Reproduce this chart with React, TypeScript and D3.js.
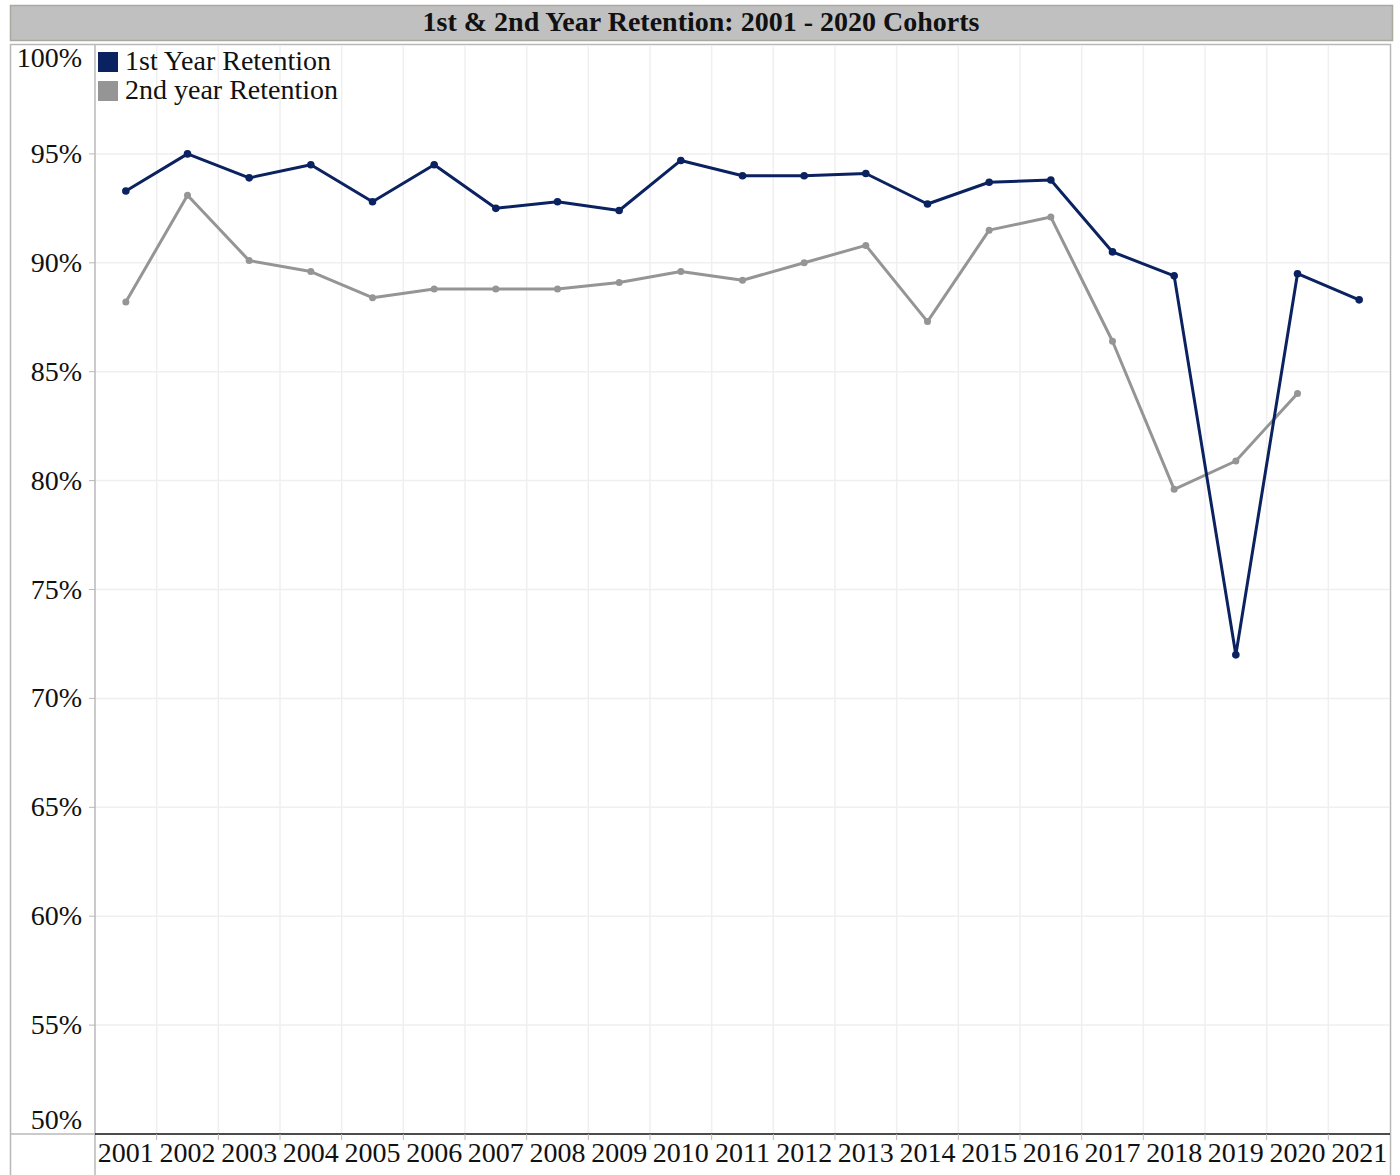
import React, { useEffect, useRef } from 'react';
import * as d3 from 'd3';

const years = ['2001', '2002', '2003', '2004', '2005', '2006', '2007', '2008', '2009', '2010', '2011',
  '2012', '2013', '2014', '2015', '2016', '2017', '2018', '2019', '2020', '2021'];

const firstYear = [93.3, 95.0, 93.9, 94.5, 92.8, 94.5, 92.5, 92.8, 92.4, 94.7, 94.0,
  94.0, 94.1, 92.7, 93.7, 93.8, 90.5, 89.4, 72.0, 89.5, 88.3];

const secondYear = [88.2, 93.1, 90.1, 89.6, 88.4, 88.8, 88.8, 88.8, 89.1, 89.6, 89.2,
  90.0, 90.8, 87.3, 91.5, 92.1, 86.4, 79.6, 80.9, 84.0, null];

const yTicks = [50, 55, 60, 65, 70, 75, 80, 85, 90, 95, 100];

const seriesNames = ['1st Year Retention', '2nd year Retention'];
const seriesColors = ['#0b2260', '#959595'];

const FONT = '"Liberation Serif", "Times New Roman", serif';

function RetentionChart() {
  const svgRef = useRef(null);
  const width = 1400;
  const height = 1175;

  useEffect(() => {
    const svg = d3.select(svgRef.current);
    svg.selectAll('*').remove();

    const left = 95, right = 1390, top = 45, bottom = 1134;
    const frameLeft = 10;

    const x = d3.scaleBand().domain(years).range([left, right]).padding(0);
    const y = d3.scaleLinear().domain([50, 100]).range([bottom, top]);

    // title bar
    svg.append('rect')
      .attr('x', 10.5).attr('y', 5.5).attr('width', 1382).attr('height', 35)
      .attr('fill', '#c0c0c0').attr('stroke', '#aba89e').attr('stroke-width', 1.5);
    svg.append('text')
      .attr('x', 701).attr('y', 31)
      .attr('text-anchor', 'middle')
      .style('font-family', FONT).style('font-weight', 'bold').style('font-size', '28px')
      .attr('fill', '#111')
      .text('1st & 2nd Year Retention: 2001 - 2020 Cohorts');

    // frame
    svg.append('rect')
      .attr('x', frameLeft + 0.5).attr('y', 44.5).attr('width', 1380).attr('height', 1140)
      .attr('fill', 'white').attr('stroke', '#b8b8b8').attr('stroke-width', 1.5);

    // vertical gridlines at band boundaries
    const boundaries = years.slice(1).map(d => x(d));
    svg.append('g').selectAll('line').data(boundaries).enter().append('line')
      .attr('x1', d => d).attr('x2', d => d)
      .attr('y1', top).attr('y2', bottom)
      .attr('stroke', '#efefef').attr('stroke-width', 1.5);

    // horizontal gridlines
    svg.append('g').selectAll('line').data(yTicks.filter(t => t > 50 && t < 100)).enter().append('line')
      .attr('x1', left).attr('x2', right)
      .attr('y1', d => y(d)).attr('y2', d => y(d))
      .attr('stroke', '#efefef').attr('stroke-width', 1.5);

    // y tick marks
    svg.append('g').selectAll('line').data(yTicks.filter(t => t > 50 && t < 100)).enter().append('line')
      .attr('x1', left - 6).attr('x2', left)
      .attr('y1', d => y(d)).attr('y2', d => y(d))
      .attr('stroke', '#b8b8b8').attr('stroke-width', 1);

    // pane dividers
    svg.append('line')
      .attr('x1', left).attr('x2', left).attr('y1', 44).attr('y2', height)
      .attr('stroke', '#b8b8b8').attr('stroke-width', 1.5);
    svg.append('line')
      .attr('x1', frameLeft).attr('x2', left).attr('y1', bottom).attr('y2', bottom)
      .attr('stroke', '#b8b8b8').attr('stroke-width', 1.5);
    svg.append('line')
      .attr('x1', left).attr('x2', right).attr('y1', bottom).attr('y2', bottom)
      .attr('stroke', '#111').attr('stroke-width', 1.5);

    // x tick marks
    svg.append('g').selectAll('line').data(boundaries).enter().append('line')
      .attr('x1', d => d).attr('x2', d => d)
      .attr('y1', bottom).attr('y2', bottom + 6)
      .attr('stroke', '#b8b8b8').attr('stroke-width', 1);

    // y labels
    svg.append('g').selectAll('text').data(yTicks).enter().append('text')
      .attr('x', 82)
      .attr('y', d => d === 100 ? y(d) + 22 : d === 50 ? y(d) - 5 : y(d) + 9)
      .attr('text-anchor', 'end')
      .style('font-family', FONT).style('font-size', '28px')
      .attr('fill', '#111')
      .text(d => `${d}%`);

    // x labels
    svg.append('g').selectAll('text').data(years).enter().append('text')
      .attr('x', d => x(d) + x.bandwidth() / 2)
      .attr('y', bottom + 28)
      .attr('text-anchor', 'middle')
      .style('font-family', FONT).style('font-size', '28px')
      .attr('fill', '#111')
      .text(d => d);

    const cx = (i) => x(years[i]) + x.bandwidth() / 2;
    const line = d3.line()
      .defined(d => d != null)
      .x((d, i) => cx(i))
      .y(d => y(d));

    const series = [secondYear, firstYear];
    const colors = [seriesColors[1], seriesColors[0]];
    const radii = [3.5, 3.8];

    series.forEach((vals, s) => {
      svg.append('path')
        .datum(vals)
        .attr('d', line)
        .attr('fill', 'none')
        .attr('stroke', colors[s])
        .attr('stroke-width', 3)
        .attr('stroke-linejoin', 'round');
      svg.append('g').selectAll('circle')
        .data(vals.map((v, i) => ({ v, i })).filter(d => d.v != null))
        .enter().append('circle')
        .attr('cx', d => cx(d.i))
        .attr('cy', d => y(d.v))
        .attr('r', radii[s])
        .attr('fill', colors[s]);
    });

    // legend
    const legend = svg.append('g');
    seriesNames.forEach((name, i) => {
      legend.append('rect')
        .attr('x', 98).attr('y', 52 + i * 29).attr('width', 20).attr('height', 20)
        .attr('fill', seriesColors[i]);
      legend.append('text')
        .attr('x', 125).attr('y', 70 + i * 29)
        .style('font-family', FONT).style('font-size', '28px')
        .attr('fill', '#111')
        .text(name);
    });
  }, []);

  return (
    <svg ref={svgRef} width={width} height={height}
      style={{ position: 'absolute', left: 0, top: 0, background: 'white' }}></svg>
  );
}

export default function App() {
  return <RetentionChart />;
}
